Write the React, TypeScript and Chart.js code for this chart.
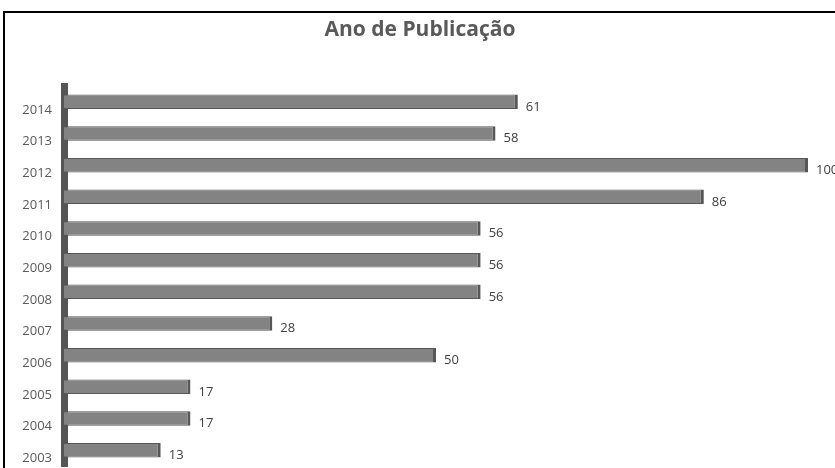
import React, { useEffect, useRef } from "react";
import { Chart, registerables } from "chart.js";

Chart.register(...registerables);

const TITLE = "Ano de Publicação";
const YEARS = ["2014", "2013", "2012", "2011", "2010", "2009", "2008", "2007", "2006", "2005", "2004", "2003"];
const COUNTS = [61, 58, 100, 86, 56, 56, 56, 28, 50, 17, 17, 13];

const FONT = "'Open Sans', 'Liberation Sans', sans-serif";

const framePlugin = {
  id: "frame",
  beforeDraw(chart: any) {
    const ctx = chart.ctx;
    ctx.save();
    ctx.fillStyle = "#ffffff";
    ctx.fillRect(0, 0, chart.width, chart.height);
    ctx.strokeStyle = "#000000";
    ctx.lineWidth = 2;
    ctx.strokeRect(4, 12, chart.width + 20, chart.height + 20);
    ctx.restore();
  },
  afterDraw(chart: any) {
    const ctx = chart.ctx;
    ctx.save();
    ctx.font = `bold 21px 'Open Sans', sans-serif`;
    ctx.fillStyle = "#595959";
    ctx.textAlign = "center";
    ctx.textBaseline = "middle";
    ctx.fillText(TITLE, 420, 30);
    ctx.restore();
  },
};

const valueLabels = {
  id: "valueLabels",
  afterDatasetsDraw(chart: any) {
    const ctx = chart.ctx;
    const meta = chart.getDatasetMeta(0);
    ctx.save();
    ctx.font = `13px ${FONT}`;
    ctx.fillStyle = "#404040";
    ctx.textAlign = "left";
    ctx.textBaseline = "middle";
    meta.data.forEach((bar: any, i: number) => {
      ctx.fillText(String(COUNTS[i]), bar.x + 8, bar.y + 5);
    });
    ctx.restore();
  },
};

export default function App() {
  const ref = useRef<HTMLCanvasElement>(null);
  useEffect(() => {
    if (!ref.current) return;
    const chart = new Chart(ref.current, {
      type: "bar",
      data: {
        labels: YEARS,
        datasets: [
          {
            data: COUNTS,
            backgroundColor: "#838383",
            borderColor: "#575757",
            borderWidth: { top: 1, bottom: 1, right: 3, left: 0 } as any,
            borderSkipped: false as any,
            barPercentage: 0.46,
            categoryPercentage: 1,
          },
        ],
      },
      options: {
        indexAxis: "y",
        animation: false,
        responsive: false,
        layout: { padding: { top: 86, bottom: 2, right: 27, left: 0 } },
        plugins: {
          legend: { display: false },
          tooltip: { enabled: false },
          title: { display: false },
        },
        scales: {
          x: { display: false, min: 0, max: 100 },
          y: {
            afterFit(scale: any) {
              scale.width = 64;
              scale.paddingTop = 0;
              scale.paddingBottom = 0;
            },
            grid: { display: false, drawTicks: false },
            border: { display: true, color: "#555555", width: 7 },
            ticks: {
              color: "#595959",
              font: { family: FONT, size: 13 },
              padding: 12,
              labelOffset: 8,
            },
          },
        },
      },
      plugins: [framePlugin, valueLabels],
    });
    return () => chart.destroy();
  }, []);
  return (
    <div style={{ position: "fixed", left: 0, top: 0, width: 835, height: 468 }}>
      <canvas ref={ref} width={835} height={468} />
    </div>
  );
}
